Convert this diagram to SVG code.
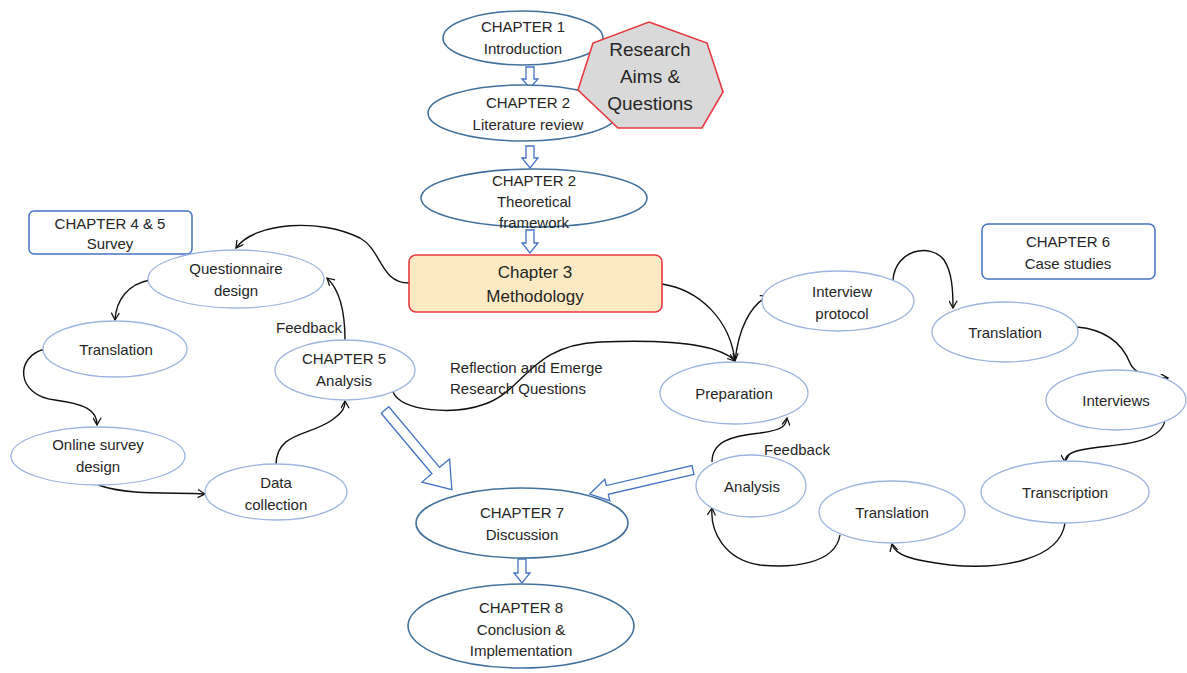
<svg xmlns="http://www.w3.org/2000/svg" width="1187" height="673" viewBox="0 0 1187 673">
  <style>
    text { font-family: "Liberation Sans", Arial, sans-serif; fill: #262626; text-anchor: middle; }
    .t { font-size: 15px; }
    .chap { fill: #fff; stroke: #41719c; stroke-width: 1.6; }
    .step { fill: #fff; stroke: #9db4df; stroke-width: 1.3; }
    .box { fill: #fff; stroke: #4472c4; stroke-width: 1.5; }
    .flow { fill: none; stroke: #111; stroke-width: 1.4; marker-end: url(#vhead); }
    .block { fill: #fff; stroke: #4472c4; stroke-width: 1.3; stroke-linejoin: miter; }
  </style>
  <defs>
    <marker id="vhead" viewBox="0 0 10 10" refX="9" refY="5" markerWidth="9" markerHeight="9" markerUnits="userSpaceOnUse" orient="auto">
      <path d="M1,0.5 L9,5 L1,9.5" fill="none" stroke="#111" stroke-width="1.4"/>
    </marker>
  </defs>
  <rect width="1187" height="673" fill="#fff"/>

  <!-- connectors -->
  <g id="connectors">
    <!-- hollow block arrows -->
    <polygon class="block" points="526,67 534,67 534,79 538,79 530,88 522,79 526,79"/>
    <polygon class="block" points="526,146 534,146 534,158 538,158 530,168 522,158 526,158"/>
    <polygon class="block" points="526,230 534,230 534,243 538,243 530,253 522,243 526,243"/>
    <polygon class="block" points="518,559 526,559 526,573 530,573 522,583 514,573 518,573"/>
    <polygon class="block" transform="translate(385,410) rotate(50)" points="0,-5 79,-5 79,-18 104,0 79,18 79,5 0,5"/>
    <polygon class="block" transform="translate(693,470) rotate(166.9)" points="0,-4.5 88,-4.5 88,-11 106,0 88,11 88,4.5 0,4.5"/>

    <!-- survey loop -->
    <path class="flow" d="M409,283 C380,283 382,250 360,238 C320,218 255,222 236,248"/>
    <path class="flow" d="M150,280 C128,284 116,300 115,320"/>
    <path class="flow" d="M45,349 C15,356 15,395 55,400 C85,404 97,410 97,425"/>
    <path class="flow" d="M98,485 C130,496 172,492 205,494"/>
    <path class="flow" d="M276,465 C276,432 310,436 332,420 C343,412 345,408 345,401"/>
    <path class="flow" d="M345,340 C345,310 340,290 327,278"/>
    <!-- reflection loop back into case studies -->
    <path class="flow" d="M393,392 C402,412 455,415 485,404 C525,390 530,345 600,342 C675,339 720,345 735,361"/>
    <!-- methodology to preparation -->
    <path class="flow" d="M662,284 C700,290 730,320 735,361"/>
    <!-- case study loop -->
    <path class="flow" d="M735,362 C738,330 750,305 768,296"/>
    <path class="flow" d="M893,280 C895,250 930,242 944,260 C952,272 953,290 953,308"/>
    <path class="flow" d="M1077,327 C1110,330 1124,348 1130,363 C1135,375 1150,378 1168,378"/>
    <path class="flow" d="M1165,420 C1162,440 1130,444 1100,447 C1075,450 1065,453 1065,462"/>
    <path class="flow" d="M1065,523 C1060,560 1000,570 950,565 C910,560 895,555 892,544"/>
    <path class="flow" d="M840,535 C835,565 790,568 760,565 C725,560 710,532 712,508"/>
    <path class="flow" d="M712,462 C712,442 730,436 760,433 C784,430 786,425 787,418"/>
  </g>

  <!-- connector labels -->
  <g id="labels">
    <text class="t" x="309" y="333">Feedback</text>
    <text class="t" x="450" y="373" style="text-anchor:start">Reflection and Emerge</text>
    <text class="t" x="450" y="394" style="text-anchor:start">Research Questions</text>
    <text class="t" x="797" y="455">Feedback</text>
  </g>

  <!-- chapter spine -->
  <g id="ch1">
    <ellipse class="chap" cx="523" cy="38" rx="80" ry="27"/>
    <text class="t" x="523" y="32">CHAPTER 1</text>
    <text class="t" x="523" y="54">Introduction</text>
  </g>
  <g id="ch2-lit">
    <ellipse class="chap" cx="523" cy="113" rx="95" ry="28"/>
    <text class="t" x="528" y="108">CHAPTER 2</text>
    <text class="t" x="528" y="130">Literature review</text>
  </g>
  <g id="aims">
    <polygon points="649,22 707,43 723,92 702,128 618,128 578,90 593,43" fill="#d9d9d9" stroke="#e8383f" stroke-width="1.6"/>
    <text x="650" y="56" style="font-size:19px">Research</text>
    <text x="650" y="83" style="font-size:19px">Aims &amp;</text>
    <text x="650" y="110" style="font-size:19px">Questions</text>
  </g>
  <g id="ch2-theory">
    <ellipse class="chap" cx="534" cy="198" rx="113" ry="29"/>
    <text class="t" x="534" y="186">CHAPTER 2</text>
    <text class="t" x="534" y="207">Theoretical</text>
    <text class="t" x="534" y="228">framework</text>
  </g>
  <g id="ch3">
    <rect x="409" y="255" width="253" height="57" rx="7" fill="#fde9c4" stroke="#e8383f" stroke-width="1.6"/>
    <text x="535" y="278" style="font-size:17px">Chapter 3</text>
    <text x="535" y="302" style="font-size:17px">Methodology</text>
  </g>
  <g id="ch7">
    <ellipse class="chap" cx="522" cy="523" rx="106" ry="35"/>
    <text class="t" x="522" y="518">CHAPTER 7</text>
    <text class="t" x="522" y="540">Discussion</text>
  </g>
  <g id="ch8">
    <ellipse class="chap" cx="521" cy="626" rx="113" ry="42"/>
    <text class="t" x="521" y="613">CHAPTER 8</text>
    <text class="t" x="521" y="635">Conclusion &amp;</text>
    <text class="t" x="521" y="656">Implementation</text>
  </g>

  <!-- survey (chapters 4 and 5) -->
  <g id="survey-title">
    <rect class="box" x="29" y="211" width="163" height="43" rx="5"/>
    <text class="t" x="110" y="229">CHAPTER 4 &amp; 5</text>
    <text class="t" x="110" y="249">Survey</text>
  </g>
  <g id="questionnaire">
    <ellipse class="step" cx="236" cy="279" rx="88" ry="29"/>
    <text class="t" x="236" y="274">Questionnaire</text>
    <text class="t" x="236" y="296">design</text>
  </g>
  <g id="s-translation">
    <ellipse class="step" cx="115" cy="349" rx="72" ry="28"/>
    <text class="t" x="116" y="355">Translation</text>
  </g>
  <g id="online-survey">
    <ellipse class="step" cx="98" cy="456" rx="87" ry="29"/>
    <text class="t" x="98" y="450">Online survey</text>
    <text class="t" x="98" y="472">design</text>
  </g>
  <g id="data-collection">
    <ellipse class="step" cx="276" cy="492" rx="71" ry="28"/>
    <text class="t" x="276" y="488">Data</text>
    <text class="t" x="276" y="510">collection</text>
  </g>
  <g id="ch5">
    <ellipse class="step" cx="345" cy="370" rx="70" ry="30"/>
    <text class="t" x="344" y="364">CHAPTER 5</text>
    <text class="t" x="344" y="386">Analysis</text>
  </g>

  <!-- case studies (chapter 6) -->
  <g id="case-title">
    <rect class="box" x="982" y="224" width="173" height="55" rx="6"/>
    <text class="t" x="1068" y="247">CHAPTER 6</text>
    <text class="t" x="1068" y="269">Case studies</text>
  </g>
  <g id="preparation">
    <ellipse class="step" cx="734" cy="393" rx="74" ry="31"/>
    <text class="t" x="734" y="399">Preparation</text>
  </g>
  <g id="interview-protocol">
    <ellipse class="step" cx="838" cy="301" rx="76" ry="30"/>
    <text class="t" x="842" y="297">Interview</text>
    <text class="t" x="842" y="319">protocol</text>
  </g>
  <g id="c-translation-1">
    <ellipse class="step" cx="1005" cy="332" rx="73" ry="30"/>
    <text class="t" x="1005" y="338">Translation</text>
  </g>
  <g id="interviews">
    <ellipse class="step" cx="1116" cy="400" rx="70" ry="30"/>
    <text class="t" x="1116" y="406">Interviews</text>
  </g>
  <g id="transcription">
    <ellipse class="step" cx="1065" cy="492" rx="84" ry="31"/>
    <text class="t" x="1065" y="498">Transcription</text>
  </g>
  <g id="c-translation-2">
    <ellipse class="step" cx="892" cy="512" rx="73" ry="31"/>
    <text class="t" x="892" y="518">Translation</text>
  </g>
  <g id="c-analysis">
    <ellipse class="step" cx="751" cy="486" rx="55" ry="31"/>
    <text class="t" x="752" y="492">Analysis</text>
  </g>
</svg>
